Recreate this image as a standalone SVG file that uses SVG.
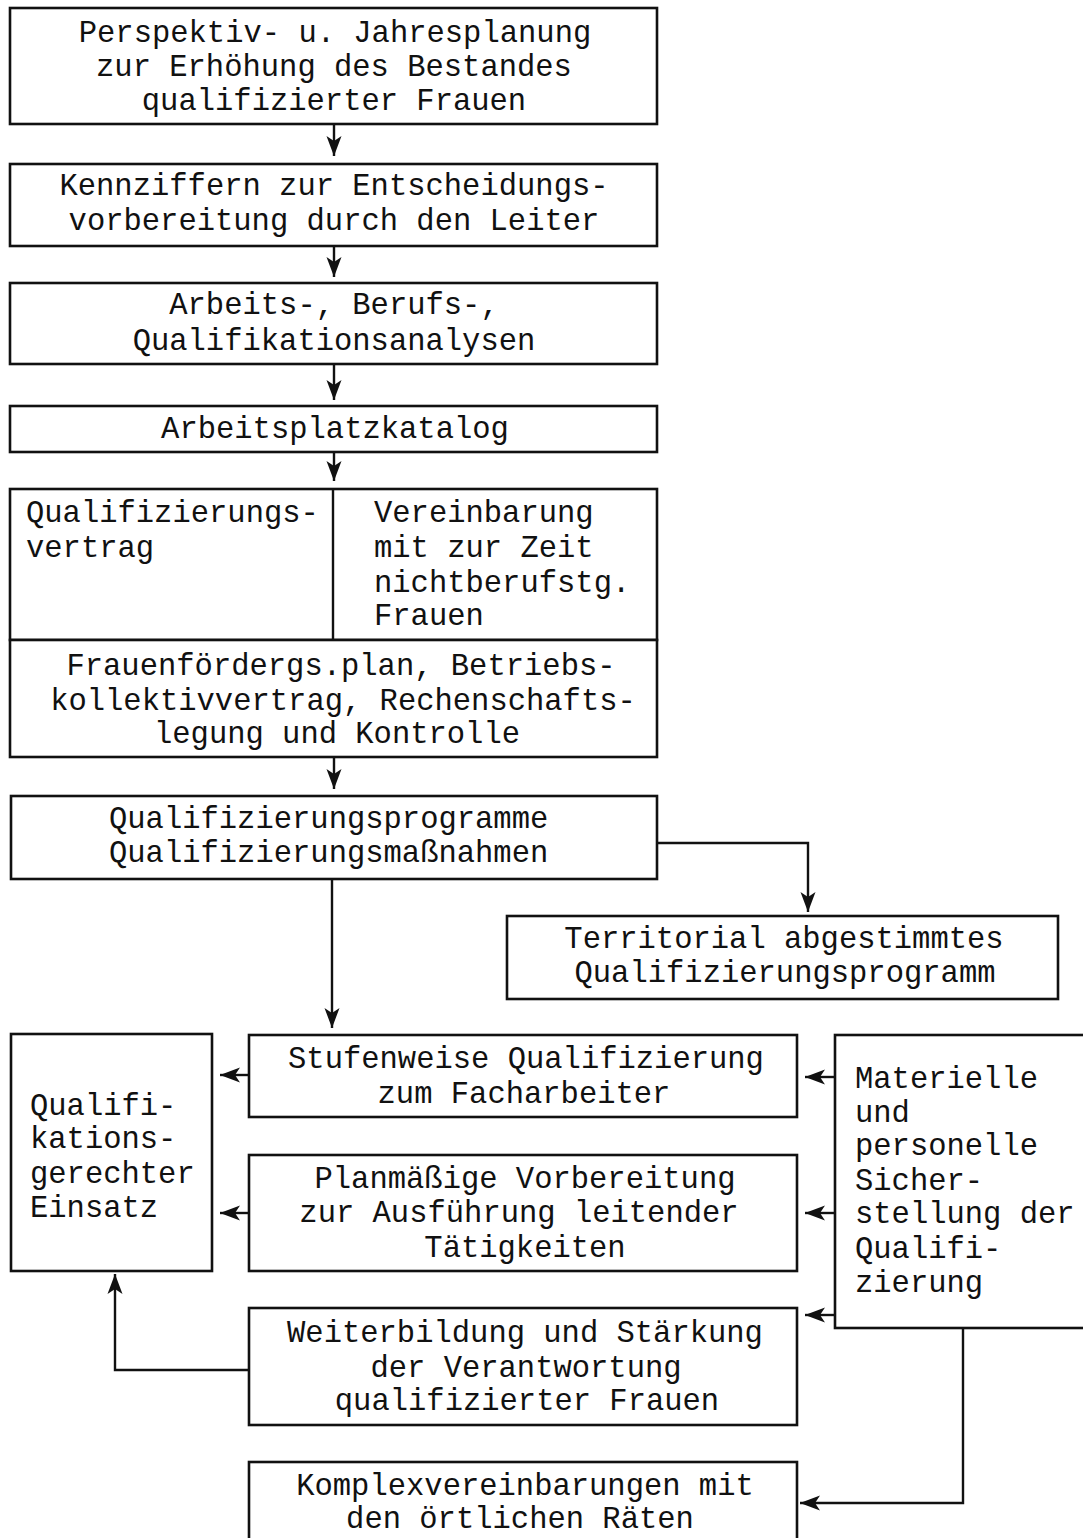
<svg xmlns="http://www.w3.org/2000/svg" width="1083" height="1538" viewBox="0 0 1083 1538">
<style>
.box{fill:#fff;stroke:#111;stroke-width:2.6}
.t{font-family:"Liberation Mono","DejaVu Sans Mono",monospace;font-size:30.5px;fill:#111}
.c{text-anchor:middle}
.con{fill:none;stroke:#111;stroke-width:2.4}
</style>
<defs>
<marker id="ah" markerUnits="userSpaceOnUse" markerWidth="22" markerHeight="18" refX="20" refY="9" orient="auto">
<path d="M20,9 L0,1.5 L5,9 L0,16.5 Z" fill="#111"/>
</marker>
</defs>
<rect width="1083" height="1538" fill="#fff"/>

<g id="n1">
<rect class="box" x="10" y="8" width="647" height="116"/>
<text class="t c" x="335" y="42">Perspektiv- u. Jahresplanung</text>
<text class="t c" x="334" y="76">zur Erhöhung des Bestandes</text>
<text class="t c" x="334" y="110">qualifizierter Frauen</text>
</g>
<g id="n2">
<rect class="box" x="10" y="164" width="647" height="82"/>
<text class="t c" x="334" y="195">Kennziffern zur Entscheidungs-</text>
<text class="t c" x="334" y="230">vorbereitung durch den Leiter</text>
</g>
<g id="n3">
<rect class="box" x="10" y="283" width="647" height="81"/>
<text class="t c" x="334" y="314">Arbeits-, Berufs-,</text>
<text class="t c" x="334" y="350">Qualifikationsanalysen</text>
</g>
<g id="n4">
<rect class="box" x="10" y="406" width="647" height="46"/>
<text class="t c" x="335" y="438">Arbeitsplatzkatalog</text>
</g>
<g id="n5">
<rect class="box" x="10" y="489" width="647" height="151"/>
<line x1="333" y1="489" x2="333" y2="640" stroke="#111" stroke-width="2.4"/>
<text class="t" x="26" y="522">Qualifizierungs-</text>
<text class="t" x="26" y="557">vertrag</text>
<text class="t" x="374" y="522">Vereinbarung</text>
<text class="t" x="374" y="557">mit zur Zeit</text>
<text class="t" x="374" y="592">nichtberufstg.</text>
<text class="t" x="374" y="625">Frauen</text>
</g>
<g id="n6">
<rect class="box" x="10" y="640" width="647" height="117"/>
<text class="t c" x="341" y="675">Frauenfördergs.plan, Betriebs-</text>
<text class="t c" x="343" y="710">kollektivvertrag, Rechenschafts-</text>
<text class="t c" x="337" y="743">legung und Kontrolle</text>
</g>
<g id="n7">
<rect class="box" x="11" y="796" width="646" height="83"/>
<text class="t" x="109" y="828">Qualifizierungsprogramme</text>
<text class="t" x="109" y="862">Qualifizierungsmaßnahmen</text>
</g>
<g id="n8">
<rect class="box" x="507" y="916" width="551" height="83"/>
<text class="t c" x="784" y="948">Territorial abgestimmtes</text>
<text class="t c" x="785" y="982">Qualifizierungsprogramm</text>
</g>
<g id="n9">
<rect class="box" x="11" y="1034" width="201" height="237"/>
<text class="t" x="30" y="1115">Qualifi-</text>
<text class="t" x="30" y="1148">kations-</text>
<text class="t" x="30" y="1183">gerechter</text>
<text class="t" x="30" y="1217">Einsatz</text>
</g>
<g id="n10">
<rect class="box" x="249" y="1035" width="548" height="82"/>
<text class="t c" x="526" y="1068">Stufenweise Qualifizierung</text>
<text class="t c" x="524" y="1103">zum Facharbeiter</text>
</g>
<g id="n11">
<rect class="box" x="249" y="1155" width="548" height="116"/>
<text class="t c" x="525" y="1188">Planmäßige Vorbereitung</text>
<text class="t c" x="519" y="1222">zur Ausführung leitender</text>
<text class="t c" x="525" y="1257">Tätigkeiten</text>
</g>
<g id="n12">
<rect class="box" x="249" y="1308" width="548" height="117"/>
<text class="t c" x="525" y="1342">Weiterbildung und Stärkung</text>
<text class="t c" x="526" y="1377">der Verantwortung</text>
<text class="t c" x="527" y="1410">qualifizierter Frauen</text>
</g>
<g id="n13">
<rect class="box" x="249" y="1462" width="548" height="90"/>
<text class="t c" x="525" y="1495">Komplexvereinbarungen mit</text>
<text class="t c" x="520" y="1528">den örtlichen Räten</text>
</g>
<g id="n14">
<rect class="box" x="835" y="1035" width="260" height="293"/>
<text class="t" x="855" y="1088">Materielle</text>
<text class="t" x="855" y="1122">und</text>
<text class="t" x="855" y="1155">personelle</text>
<text class="t" x="855" y="1190">Sicher-</text>
<text class="t" x="855" y="1223">stellung der</text>
<text class="t" x="855" y="1258">Qualifi-</text>
<text class="t" x="855" y="1292">zierung</text>
</g>

<g id="connectors">
<path class="con" d="M334,124 V156" marker-end="url(#ah)"/>
<path class="con" d="M334,246 V277" marker-end="url(#ah)"/>
<path class="con" d="M334,364 V400" marker-end="url(#ah)"/>
<path class="con" d="M334,452 V481" marker-end="url(#ah)"/>
<path class="con" d="M334,757 V789" marker-end="url(#ah)"/>
<path class="con" d="M657,843 H808 V912" marker-end="url(#ah)"/>
<path class="con" d="M332,879 V1028" marker-end="url(#ah)"/>
<path class="con" d="M249,1075 H220" marker-end="url(#ah)"/>
<path class="con" d="M249,1213 H220" marker-end="url(#ah)"/>
<path class="con" d="M249,1370 H115 V1274" marker-end="url(#ah)"/>
<path class="con" d="M835,1077 H805" marker-end="url(#ah)"/>
<path class="con" d="M835,1213 H805" marker-end="url(#ah)"/>
<path class="con" d="M835,1315 H805" marker-end="url(#ah)"/>
<path class="con" d="M963,1328 V1503 H800" marker-end="url(#ah)"/>
</g>
</svg>
